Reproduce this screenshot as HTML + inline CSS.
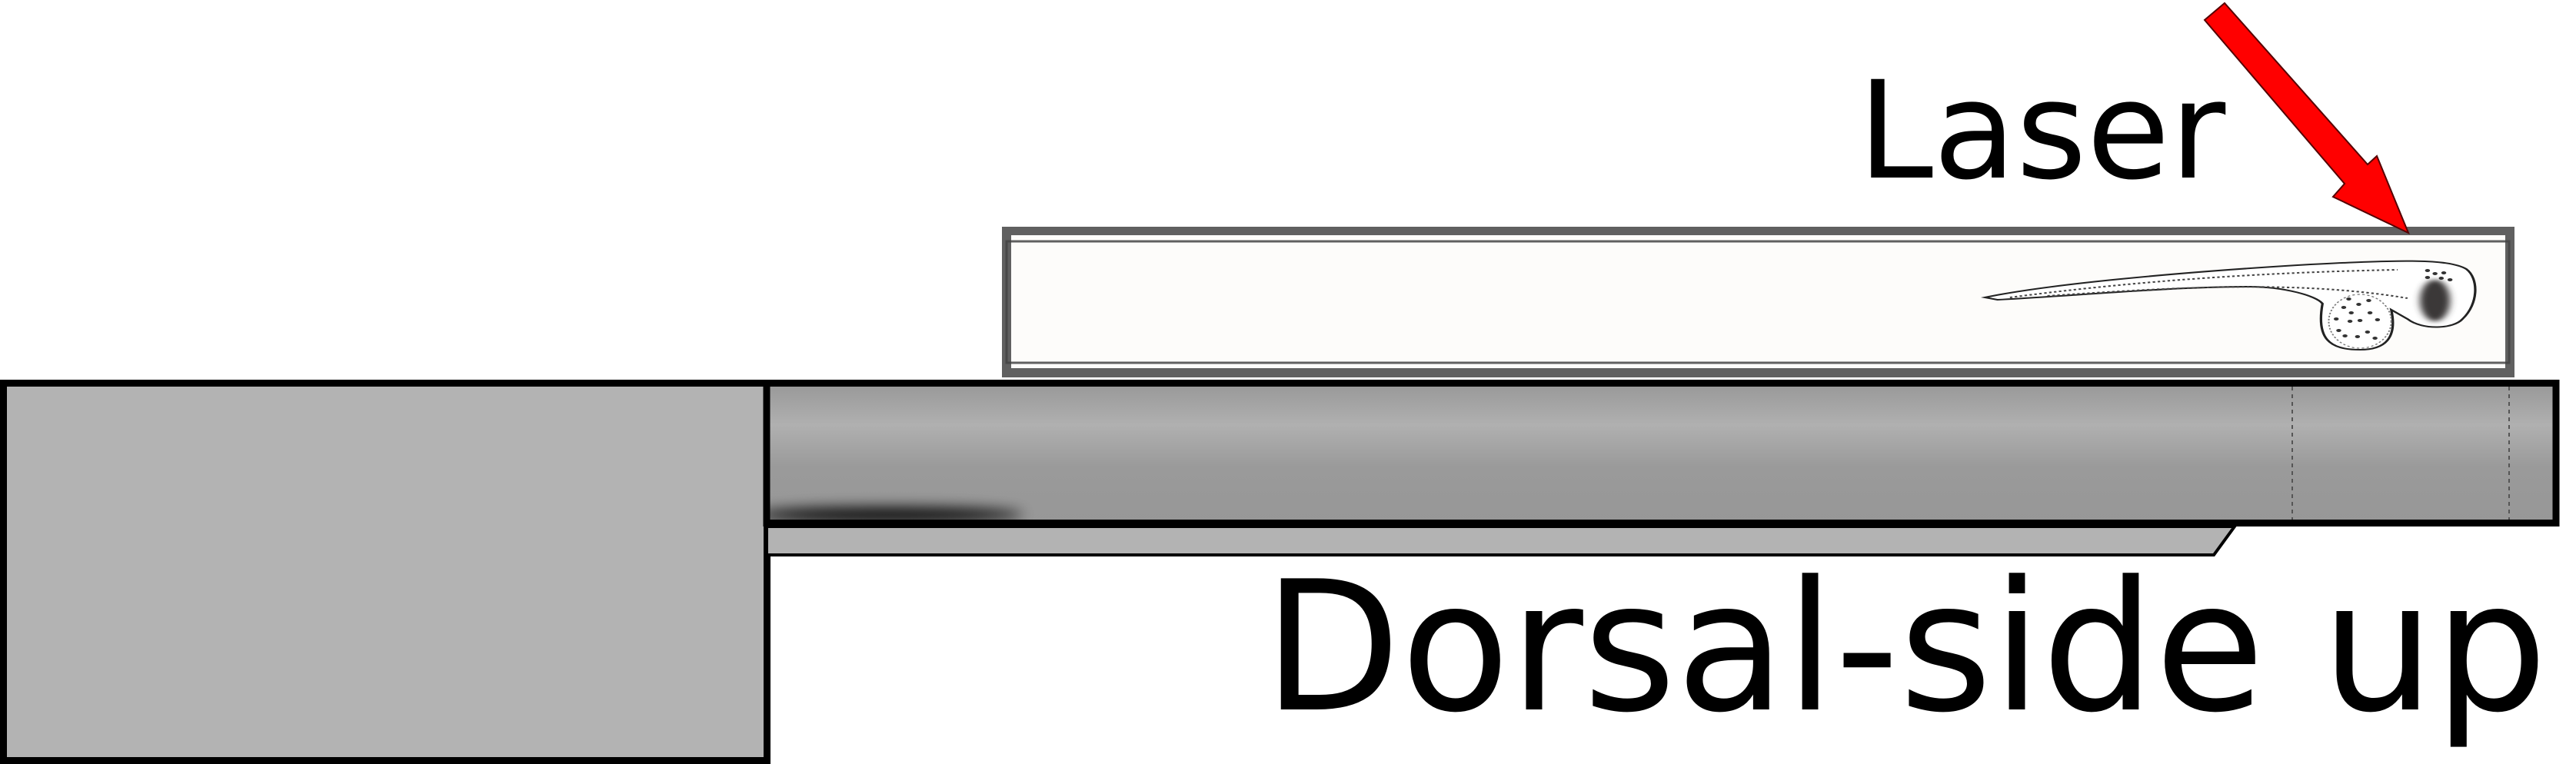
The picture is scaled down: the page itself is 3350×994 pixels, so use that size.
<!DOCTYPE html>
<html><head><meta charset="utf-8"><style>
html,body{margin:0;padding:0;background:#fff;}
svg{display:block;}
</style></head><body>
<svg width="3350" height="994" viewBox="0 0 3350 994" xmlns="http://www.w3.org/2000/svg">
<defs>
<linearGradient id="tubeg" x1="0" y1="0" x2="0" y2="1">
<stop offset="0" stop-color="#989898"/>
<stop offset="0.3" stop-color="#b0b0b0"/>
<stop offset="0.6" stop-color="#9a9a9a"/>
<stop offset="1" stop-color="#979797"/>
</linearGradient>
<filter id="blur1" x="-50%" y="-200%" width="200%" height="500%"><feGaussianBlur stdDeviation="9"/></filter>
<filter id="blur2" x="-50%" y="-50%" width="200%" height="200%"><feGaussianBlur stdDeviation="3"/></filter>
<clipPath id="tubeclip"><rect x="1001" y="503" width="2323" height="173"/></clipPath>
</defs>

<rect x="4.5" y="498.5" width="993" height="491" fill="#b3b3b3" stroke="#000" stroke-width="9"/>

<polygon points="997,685 2906,685 2879,722 997,722" fill="#b3b3b3" stroke="#000" stroke-width="4"/>

<g>
<rect x="997" y="498.5" width="2327" height="182" fill="url(#tubeg)" stroke="#000" stroke-width="9"/>
<g clip-path="url(#tubeclip)">
<ellipse cx="1155" cy="670" rx="175" ry="10" fill="#000" filter="url(#blur1)" opacity="0.95"/>
</g>
<rect x="997" y="498.5" width="2327" height="182" fill="none" stroke="#000" stroke-width="9"/>
<line x1="2981" y1="503" x2="2981" y2="676" stroke="#555" stroke-width="2" stroke-dasharray="5,5"/>
<line x1="3263" y1="503" x2="3263" y2="676" stroke="#555" stroke-width="2" stroke-dasharray="5,5"/>
</g>

<g>
<rect x="1303" y="295" width="1967" height="196" fill="#606060"/>
<rect x="1315" y="306" width="1943" height="173" fill="#fdfcfa"/>
<rect x="1309" y="314" width="1954" height="158" fill="none" stroke="#444" stroke-width="3" opacity="0.85"/>
</g>

<g transform="matrix(1.626 0 0 1 -1565 0)">
<path d="M2550,387 C2600,370 2700,355 2800,345 C2880,338 2920,336 2935,350 C2945,362 2945,395 2932,415 C2925,428 2900,430 2888,415 L2875,403 C2880,440 2870,455 2850,455 C2825,455 2815,440 2820,395 C2815,385 2790,373 2760,373 C2700,373 2620,385 2560,390 Z" fill="#fff" stroke="#222" stroke-width="2"/>
<path d="M2570,387 C2650,370 2750,355 2880,351" fill="none" stroke="#444" stroke-width="2" stroke-dasharray="2,2"/>
<path d="M2600,385 C2700,374 2800,364 2888,388" fill="none" stroke="#444" stroke-width="2" stroke-dasharray="2,2"/>
<ellipse cx="2850" cy="418" rx="25" ry="35" fill="none" stroke="#777" stroke-width="1.2" stroke-dasharray="2,2"/>
<ellipse cx="2910" cy="391" rx="12" ry="27" fill="#3a3838" filter="url(#blur2)"/>
<g fill="#333">
<circle cx="2841" cy="389" r="2"/><circle cx="2849" cy="396" r="2"/><circle cx="2857" cy="391" r="2"/>
<circle cx="2837" cy="400" r="2"/><circle cx="2843" cy="407" r="2"/><circle cx="2858" cy="407" r="2"/>
<circle cx="2831" cy="415" r="2"/><circle cx="2842" cy="418" r="2"/><circle cx="2850" cy="417" r="2"/><circle cx="2864" cy="416" r="2"/>
<circle cx="2833" cy="430" r="2"/><circle cx="2838" cy="437" r="2"/><circle cx="2848" cy="438" r="2"/><circle cx="2856" cy="432" r="2"/><circle cx="2862" cy="440" r="2"/>
<circle cx="2904" cy="352" r="2"/><circle cx="2910" cy="356" r="2"/><circle cx="2917" cy="355" r="2"/>
<circle cx="2904" cy="361" r="2"/><circle cx="2915" cy="362" r="2"/><circle cx="2922" cy="364" r="2"/>
</g>
</g>

<polygon points="2893,4 3079,214 3091,203 3132,303 3034,256 3049,239 2867,26" fill="#ff0000" stroke="#550000" stroke-width="2"/>

<text x="2416" y="231" font-family="DejaVu Sans, 'Liberation Sans', sans-serif" font-size="176" fill="#000">Laser</text>
<text x="1643" y="923" font-family="DejaVu Sans, 'Liberation Sans', sans-serif" font-size="234" fill="#000" textLength="1670" lengthAdjust="spacingAndGlyphs">Dorsal-side up</text>
</svg>
</body></html>
